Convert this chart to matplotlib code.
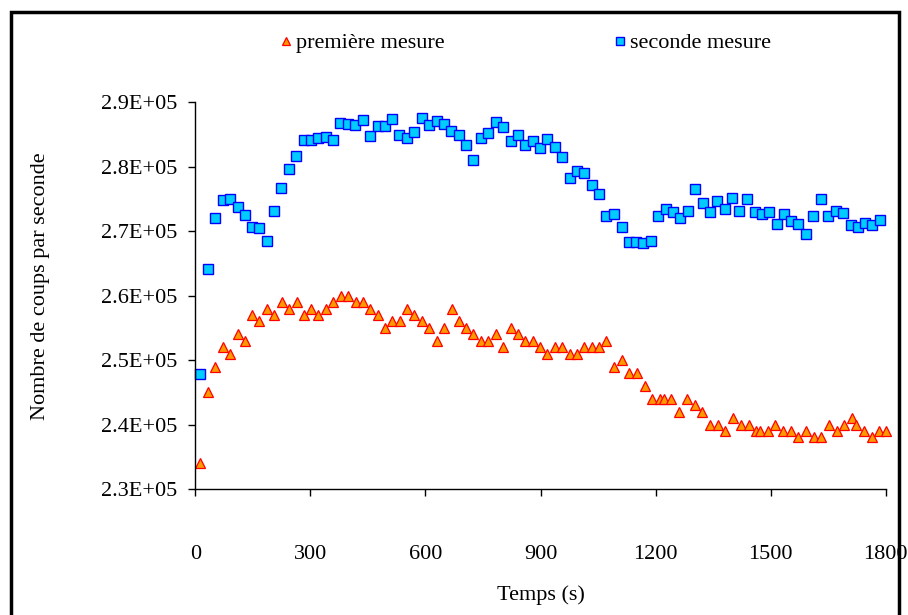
import numpy as np
import matplotlib
matplotlib.use('Agg')
from matplotlib import pyplot as plt
from matplotlib.patches import Rectangle
from matplotlib.ticker import FuncFormatter

plt.rcParams['font.family'] = ['Liberation Serif', 'DejaVu Serif']

# premiere mesure (temps en s, coups par seconde)
t1 = [13, 33, 52, 71, 90, 110, 129, 148, 167, 186, 205, 225, 244, 264, 283, 302,
      321, 340, 359, 379, 398, 418, 437, 456, 476, 495, 514, 533, 552, 571, 590, 610,
      630, 649, 668, 687, 706, 725, 744, 764, 783, 803, 822, 841, 860, 879, 898, 918,
      937, 957, 976, 995, 1014, 1033, 1052, 1071, 1091, 1111, 1131, 1151, 1171, 1191,
      1211, 1221, 1241, 1262, 1282, 1302, 1322, 1342, 1362, 1382, 1402, 1422, 1442,
      1462, 1472, 1492, 1512, 1532, 1552, 1572, 1592, 1612, 1632, 1652, 1672, 1692,
      1712, 1723, 1743, 1763, 1782, 1800]
c1 = [234, 245, 249, 252, 251, 254, 253, 257, 256, 258, 257, 259, 258, 259, 257, 258,
      257, 258, 259, 260, 260, 259, 259, 258, 257, 255, 256, 256, 258, 257, 256, 255,
      253, 255, 258, 256, 255, 254, 253, 253, 254, 252, 255, 254, 253, 253, 252, 251,
      252, 252, 251, 251, 252, 252, 252, 253, 249, 250, 248, 248, 246, 244,
      244, 244, 244, 242, 244, 243, 242, 240, 240, 239, 241, 240, 240,
      239, 239, 239, 240, 239, 239, 238, 239, 238, 238, 240, 239, 240,
      241, 240, 239, 238, 239, 239]
c1 = [v * 1000 for v in c1]

# seconde mesure
t2 = [13, 32, 51, 71, 90, 110, 129, 148, 167, 186, 205, 224, 244, 263, 283, 302,
      321, 340, 360, 378, 398, 417, 437, 456, 475, 494, 513, 532, 552, 571, 591, 610,
      629, 648, 667, 687, 706, 725, 744, 764, 783, 802, 822, 841, 860, 879, 898, 918,
      938, 957, 976, 995, 1014, 1033, 1052, 1071, 1091, 1111, 1130, 1149, 1168, 1187,
      1207, 1226, 1245, 1264, 1284, 1303, 1323, 1342, 1361, 1380, 1399, 1418, 1438,
      1458, 1477, 1496, 1515, 1534, 1553, 1572, 1591, 1611, 1630, 1650, 1669, 1688,
      1708, 1727, 1746, 1765, 1784]
c2 = [247.9, 264.2, 272.0, 274.9, 275.0, 273.7, 272.5, 270.6, 270.5, 268.4, 273.2,
      276.7, 279.6, 281.6, 284.2, 284.1, 284.4, 284.6, 284.1, 286.8, 286.7, 286.4,
      287.2, 284.8, 286.3, 286.3, 287.4, 284.9, 284.5, 285.4, 287.5, 286.5, 287.1,
      286.7, 285.6, 284.9, 283.3, 281.1, 284.4, 285.2, 286.9, 286.1, 284.0, 285.0,
      283.3, 284.0, 282.9, 284.3, 283.0, 281.5, 278.2, 279.3, 279.1, 277.2, 275.8,
      272.4, 272.7, 270.6, 268.3, 268.3, 268.1, 268.5, 272.3, 273.5, 272.9, 272.1,
      273.2, 276.5, 274.4, 272.9, 274.7, 273.4, 275.1, 273.2, 275.0, 272.9, 272.7,
      273.0, 271.1, 272.7, 271.6, 271.1, 269.6, 272.3, 275.0, 272.3, 273.2, 272.8,
      271.0, 270.7, 271.3, 271.0, 271.7]
c2 = [v * 1000 for v in c2]

fig = plt.figure(figsize=(9.08, 6.15), dpi=100)
ax = fig.add_axes([0.2151, 0.2049, 0.7605, 0.6288])

ax.plot(t1, c1, linestyle='none', marker='^', markersize=7, markerfacecolor='#FF9900',
        markeredgecolor='#FF0000', markeredgewidth=0.9, label='première mesure', clip_on=False)
ax.plot(t2, c2, linestyle='none', marker='s', markersize=6.5, markerfacecolor='#00CCFF',
        markeredgecolor='#0000FF', markeredgewidth=1.0, label='seconde mesure', clip_on=False)

ax.set_xlim(0, 1800)
ax.set_ylim(230000, 290000)
ax.set_xticks([0, 300, 600, 900, 1200, 1500, 1800])
ax.set_yticks(np.arange(230000, 290001, 10000))
ax.yaxis.set_major_formatter(FuncFormatter(lambda v, p: '%.1fE+05' % (v / 1e5)))

for s in ['top', 'right']:
    ax.spines[s].set_visible(False)
for s in ['left', 'bottom']:
    ax.spines[s].set_linewidth(1.0)
ax.tick_params(axis='both', direction='out', length=5, width=1.0, labelsize=16)
ax.tick_params(axis='x', pad=35)
ax.tick_params(axis='y', pad=8)

ax.set_xlabel('Temps (s)', fontsize=16)
ax.xaxis.set_label_coords(0.5, -0.25)
ax.set_ylabel('Nombre de coups par seconde', fontsize=16)
ax.yaxis.set_label_coords(-0.21, 0.525)

fig.legend(loc='center', bbox_to_anchor=(0.578, 0.93), ncol=2, frameon=False, fontsize=16,
           handlelength=0.6, handletextpad=0.15, columnspacing=7.6, markerscale=0.8)

fig.patches.append(Rectangle((11 / 908, -0.02), 888 / 908, 1 - 12 / 615 + 0.02,
                             transform=fig.transFigure, fill=False, edgecolor='black',
                             linewidth=2.5))

fig.savefig('out.png', dpi=100)
